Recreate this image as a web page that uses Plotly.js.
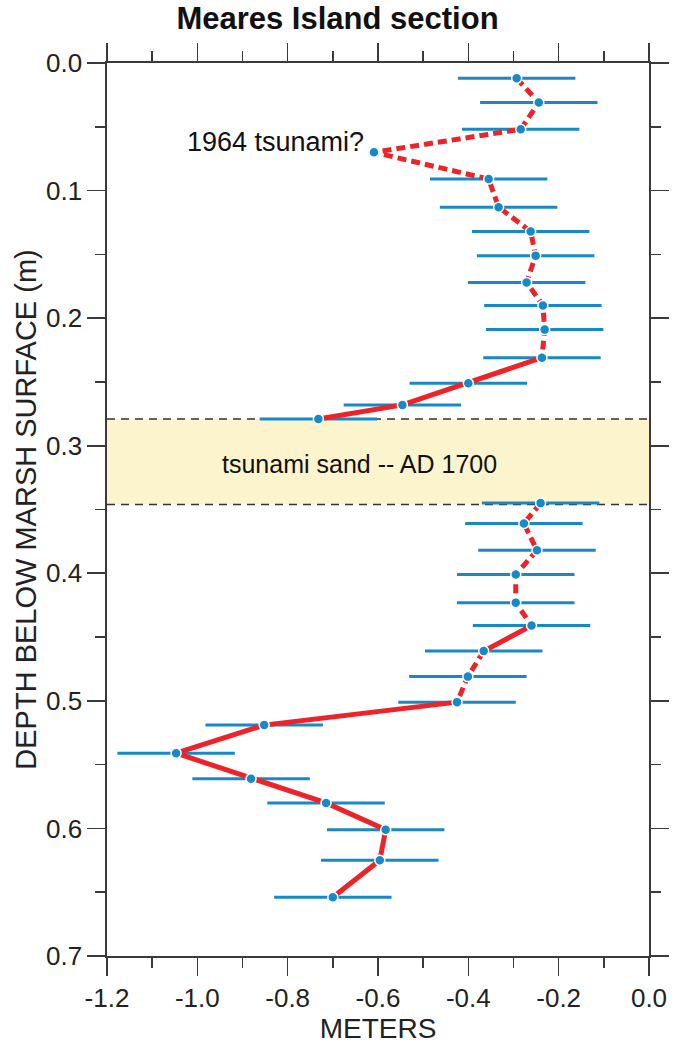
<!DOCTYPE html>
<html>
<head>
<meta charset="utf-8">
<script src="https://cdn.plot.ly/plotly-3.0.1.min.js"></script>
<style>
  html, body { margin: 0; padding: 0; background: #ffffff; }
  #chart { width: 675px; height: 1047px; }
</style>
</head>
<body>
<div id="chart"></div>
<script>
// Sample depths below the marsh surface (m)
const depth = [
  0.012, 0.031, 0.052, 0.070, 0.091, 0.113, 0.132, 0.151, 0.172, 0.190, 0.209, 0.231,
  0.251, 0.268, 0.279,
  0.345, 0.361, 0.382, 0.401, 0.423, 0.441, 0.461, 0.481, 0.501,
  0.519, 0.541, 0.561, 0.580, 0.601, 0.625, 0.654
];
// Reconstructed elevation (m) for each sample
const meters = [
  -0.293, -0.244, -0.284, -0.609, -0.355, -0.333, -0.262, -0.251, -0.271, -0.235, -0.231, -0.237,
  -0.400, -0.546, -0.732,
  -0.240, -0.277, -0.248, -0.295, -0.295, -0.260, -0.366, -0.401, -0.425,
  -0.852, -1.047, -0.881, -0.715, -0.583, -0.596, -0.700
];
// Uncertainty (+/- m) for each sample; the 1964 sample has none
const meterErr = [
  0.13, 0.13, 0.13, 0, 0.13, 0.13, 0.13, 0.13, 0.13, 0.13, 0.13, 0.13,
  0.13, 0.13, 0.13,
  0.13, 0.13, 0.13, 0.13, 0.13, 0.13, 0.13, 0.13, 0.13,
  0.13, 0.13, 0.13, 0.13, 0.13, 0.13, 0.13
];
// Style of the segment joining sample i to sample i+1
const segStyle = [
  'dash', 'dash', 'dash', 'dash', 'dash', 'dash', 'dash', 'dash', 'dash', 'dash', 'dash',
  'solid', 'solid', 'solid',
  'none',
  'dash', 'dash', 'dash', 'dash', 'dash',
  'solid',
  'dash', 'dash',
  'solid', 'solid', 'solid', 'solid', 'solid', 'solid', 'solid'
];
// AD 1700 tsunami sand layer (depth, m)
const sandTop = 0.279;
const sandBase = 0.346;

const xTickVals = [-1.2, -1.0, -0.8, -0.6, -0.4, -0.2, 0.0];
const xTickText = ['-1.2', '-1.0', '-0.8', '-0.6', '-0.4', '-0.2', '0.0'];
const yTickVals = [0.0, 0.1, 0.2, 0.3, 0.4, 0.5, 0.6, 0.7];
const yTickText = ['0.0', '0.1', '0.2', '0.3', '0.4', '0.5', '0.6', '0.7'];

const FONT = 'Liberation Sans, Arial, Helvetica, sans-serif';
const AXIS = '#3a3a3a';
const RED = '#ec2328';
const BLUE = '#1789c8';

// Collect the runs of segments drawn with one style, split by nulls
function segmentsOf(style) {
  const xs = [], ys = [];
  let lastEnd = -1;
  for (let i = 0; i < segStyle.length; i++) {
    if (segStyle[i] !== style) continue;
    if (lastEnd !== i) {
      if (xs.length) { xs.push(null); ys.push(null); }
      xs.push(meters[i]); ys.push(depth[i]);
    }
    xs.push(meters[i + 1]); ys.push(depth[i + 1]);
    lastEnd = i + 1;
  }
  return { xs, ys };
}

const dashSeg = segmentsOf('dash');
const solidSeg = segmentsOf('solid');

const traces = [
  {
    x: meters, y: depth, type: 'scatter', mode: 'markers',
    marker: { size: 1, color: 'rgba(0,0,0,0)' },
    error_x: { type: 'data', array: meterErr, visible: true, color: BLUE, thickness: 3, width: 0 },
    hoverinfo: 'skip'
  },
  {
    x: dashSeg.xs, y: dashSeg.ys, type: 'scatter', mode: 'lines',
    line: { color: RED, width: 5, dash: '9px,5px' }, connectgaps: false
  },
  {
    x: solidSeg.xs, y: solidSeg.ys, type: 'scatter', mode: 'lines',
    line: { color: RED, width: 5 }, connectgaps: false
  },
  {
    x: meters, y: depth, type: 'scatter', mode: 'markers',
    marker: { size: 10, color: BLUE, line: { color: '#ffffff', width: 1.5 } }
  }
];

const axisCommon = {
  showgrid: false, zeroline: false,
  showline: true, linecolor: AXIS, linewidth: 1.6,
  mirror: 'ticks',
  ticks: 'outside', ticklen: 18, tickwidth: 1.6, tickcolor: AXIS,
  tickfont: { family: FONT, size: 26, color: '#222222' },
  tickmode: 'array'
};

const layout = {
  width: 675, height: 1047,
  margin: { l: 107, r: 26, t: 63, b: 91, pad: 0 },
  paper_bgcolor: '#ffffff', plot_bgcolor: '#ffffff',
  showlegend: false,
  hovermode: false,
  title: {
    text: 'Meares Island section',
    font: { family: FONT, size: 31, color: '#111111', weight: 700 },
    x: 0.5, xref: 'container', xanchor: 'center',
    y: 0.983, yref: 'container', yanchor: 'middle'
  },
  xaxis: Object.assign({}, axisCommon, {
    range: [-1.2, 0.0],
    tickvals: xTickVals, ticktext: xTickText,
    minor: { ticks: 'outside', ticklen: 10, tickwidth: 1.6, tickcolor: AXIS, tickmode: 'linear', tick0: 0, dtick: 0.1 },
    title: { text: 'METERS', font: { family: FONT, size: 28, color: '#222222' }, standoff: 5 }
  }),
  yaxis: Object.assign({}, axisCommon, {
    range: [0.7, 0.0],
    tickvals: yTickVals, ticktext: yTickText,
    minor: { ticks: 'outside', ticklen: 10, tickwidth: 1.6, tickcolor: AXIS, tickmode: 'linear', tick0: 0, dtick: 0.05 },
    title: { text: 'DEPTH BELOW MARSH SURFACE (m)', font: { family: FONT, size: 29, color: '#222222' }, standoff: 1 }
  }),
  shapes: [
    {
      type: 'rect', layer: 'below', xref: 'paper', yref: 'y',
      x0: 0, x1: 1, y0: sandTop, y1: sandBase,
      fillcolor: '#fbf4cd', line: { width: 0 }
    },
    {
      type: 'line', layer: 'below', xref: 'paper', yref: 'y',
      x0: 0, x1: 1, y0: sandTop, y1: sandTop,
      line: { color: '#333333', width: 1.5, dash: '8px,6px' }
    },
    {
      type: 'line', layer: 'below', xref: 'paper', yref: 'y',
      x0: 0, x1: 1, y0: sandBase, y1: sandBase,
      line: { color: '#333333', width: 1.5, dash: '8px,6px' }
    }
  ],
  annotations: [
    {
      text: '1964 tsunami?', x: meters[3], y: depth[3], xref: 'x', yref: 'y',
      xanchor: 'right', yanchor: 'middle', xshift: -8, yshift: 10, showarrow: false,
      font: { family: FONT, size: 27, color: '#111111' }
    },
    {
      text: 'tsunami sand -- AD 1700', x: -0.64, y: (sandTop + sandBase) / 2, xref: 'x', yref: 'y',
      xanchor: 'center', yanchor: 'middle', yshift: -2, showarrow: false,
      font: { family: FONT, size: 25, color: '#111111' }
    }
  ]
};

Plotly.newPlot('chart', traces, layout, { displayModeBar: false, staticPlot: true });
</script>
</body>
</html>
